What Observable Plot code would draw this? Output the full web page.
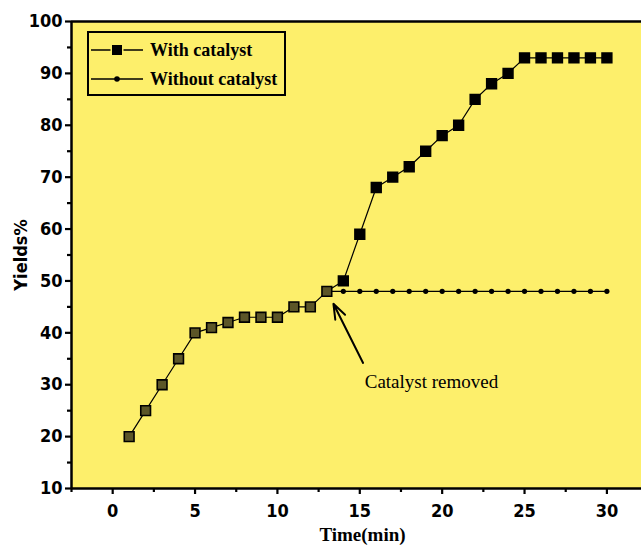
<!DOCTYPE html>
<html>
<head>
<meta charset="utf-8">
<script src="https://cdn.jsdelivr.net/npm/d3@7"></script>
<script src="https://cdn.jsdelivr.net/npm/@observablehq/plot@0.6"></script>
<style>
  html, body { margin: 0; padding: 0; background: #ffffff; }
  #chart svg { display: block; }
</style>
</head>
<body>
<div id="chart"></div>
<script>
// ---- data ----
const timeWith = [1,2,3,4,5,6,7,8,9,10,11,12,13,14,15,16,17,18,19,20,21,22,23,24,25,26,27,28,29,30];
const yieldWith = [20,25,30,35,40,41,42,43,43,43,45,45,48,50,59,68,70,72,75,78,80,85,88,90,93,93,93,93,93,93];
const timeWithout = [13,14,15,16,17,18,19,20,21,22,23,24,25,26,27,28,29,30];
const yieldWithout = [48,48,48,48,48,48,48,48,48,48,48,48,48,48,48,48,48,48];
const catalystRemovedAt = 13; // squares up to here drawn with olive centre
const xMajorTicks = [0,5,10,15,20,25,30];
const xMinorTicks = [-2.5,2.5,7.5,12.5,17.5,22.5,27.5];
const yMajorTicks = [10,20,30,40,50,60,70,80,90,100];
const yMinorTicks = [15,25,35,45,55,65,75,85,95];
const seriesNames = ["With catalyst", "Without catalyst"];
const annotation = [{x1: 15.2, y1: 34.2, x2: 13.4, y2: 45.6, tx: 15.3, ty: 30.6, label: "Catalyst removed"}];
const xDomain = [-2.5, 32.1];
const yDomain = [10, 100];

const withData = timeWith.map((t, i) => ({t, y: yieldWith[i]}));
const withoutData = timeWithout.map((t, i) => ({t, y: yieldWithout[i]}));

const tickFont = "'DejaVu Sans Condensed', 'DejaVu Sans', sans-serif";
const serif = "'Liberation Serif', 'Times New Roman', serif";

function legend(index, scales, values, dims) {
  const g = d3.create("svg:g");
  g.append("rect").attr("x", 88).attr("y", 32).attr("width", 197).attr("height", 63)
    .attr("fill", "none").attr("stroke", "black").attr("stroke-width", 2);
  const rows = [50, 79];
  rows.forEach((ry, i) => {
    g.append("line").attr("x1", 91).attr("x2", 143).attr("y1", ry).attr("y2", ry)
      .attr("stroke", "black").attr("stroke-width", 1.5);
    if (i === 0) {
      g.append("rect").attr("x", 112).attr("y", ry - 5).attr("width", 10).attr("height", 10)
        .attr("fill", "black").attr("stroke", "#fdef6b").attr("stroke-width", 3).attr("paint-order", "stroke");
    } else {
      g.append("circle").attr("cx", 117).attr("cy", ry).attr("r", 2.8).attr("fill", "black");
    }
    g.append("text").attr("x", 150).attr("y", ry).attr("dy", "0.35em")
      .attr("text-anchor", "start")
      .attr("font-family", serif).attr("font-weight", "bold").attr("font-size", 18)
      .attr("fill", "black").text(seriesNames[i]);
  });
  return g.node();
}

const chart = Plot.plot({
  width: 641,
  height: 548,
  marginLeft: 71,
  marginTop: 21,
  marginBottom: 60,
  marginRight: 0,
  style: {background: "white", overflow: "visible"},
  x: {domain: xDomain},
  y: {domain: yDomain},
  marks: [
    Plot.frame({fill: "#fdef6b", stroke: null}),
    // without catalyst
    Plot.line(withoutData, {x: "t", y: "y", stroke: "black", strokeWidth: 1.3}),
    Plot.dot(withoutData, {x: "t", y: "y", r: 2.6, fill: "black", stroke: null}),
    // with catalyst
    Plot.line(withData, {x: "t", y: "y", stroke: "black", strokeWidth: 1.2}),
    Plot.dot(withData, {x: "t", y: "y", symbol: "square", r: 5.5,
      fill: d => d.t <= catalystRemovedAt ? "#5c5628" : "black", stroke: "black", strokeWidth: 1.6}),
    // frame lines
    Plot.ruleY([yDomain[1]], {stroke: "black", strokeWidth: 2.5}),
    Plot.ruleY([yDomain[0]], {stroke: "black", strokeWidth: 2.5}),
    Plot.ruleX([xDomain[0]], {stroke: "black", strokeWidth: 2.5}),
    // axes
    Plot.axisX({ticks: xMajorTicks, tickSize: 6, tickPadding: 10, strokeWidth: 2.2,
      fontFamily: tickFont, fontWeight: "bold", fontSize: 18, fill: "black",
      label: null}),
    Plot.axisX({ticks: xMinorTicks, tickSize: 4, strokeWidth: 2.2, text: null, label: null}),
    Plot.axisY({ticks: yMajorTicks, tickSize: 6, tickPadding: 3, strokeWidth: 2.2,
      fontFamily: tickFont, fontWeight: "bold", fontSize: 18, fill: "black",
      label: null}),
    Plot.axisY({ticks: yMinorTicks, tickSize: 4, strokeWidth: 2.2, text: null, label: null}),
    // axis titles
    Plot.text(["Time(min)"], {frameAnchor: "bottom", dy: 52, dx: 6, fontFamily: serif, fontWeight: "bold",
      fontSize: 19, fill: "black"}),
    Plot.text(["Yields%"], {frameAnchor: "left", dx: -50, rotate: -90, textAnchor: "middle",
      fontFamily: tickFont, fontWeight: "bold", fontSize: 18, fill: "black"}),
    // annotation
    Plot.arrow(annotation, {x1: "x1", y1: "y1", x2: "x2", y2: "y2", stroke: "black", strokeWidth: 2,
      headLength: 12, headAngle: 40}),
    Plot.text(annotation, {x: "tx", y: "ty", text: "label", textAnchor: "start", fontFamily: serif,
      fontSize: 19, fill: "black"}),
    legend
  ]
});

document.getElementById("chart").appendChild(chart);
</script>
</body>
</html>
